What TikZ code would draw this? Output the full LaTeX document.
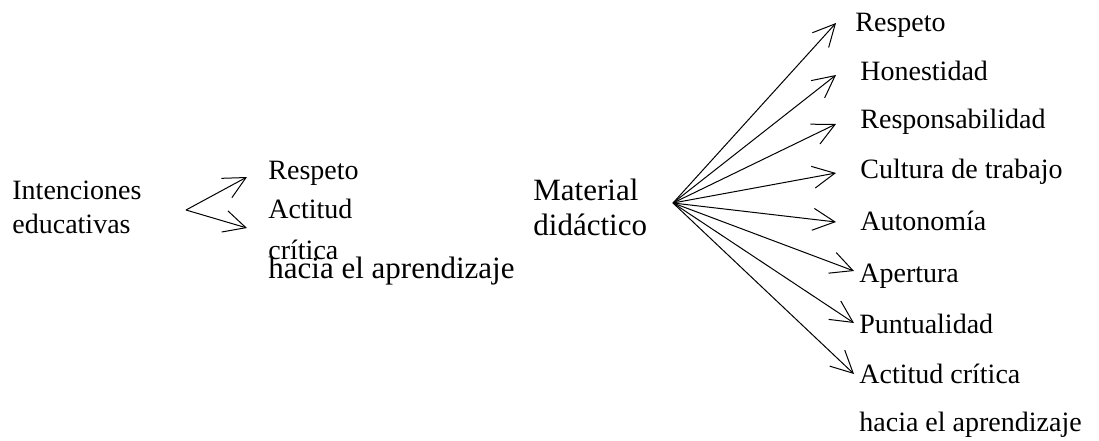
\documentclass[tikz,border=0pt]{standalone}
\usepackage{fontspec}
\setmainfont{Liberation Serif}
\usetikzlibrary{arrows.meta}
\tikzset{every node/.style={inner sep=0pt,anchor=base west,font=\fontsize{14}{17}\selectfont},
  flecha/.style={-{Straight Barb[length=11pt,width=11pt]},line width=0.5pt}}

\begin{document}
\begin{tikzpicture}[x=0.5pt,y=-0.5pt]
      \useasboundingbox (0,0) rectangle (1099,440);
      \node (I1) at (12,199) {Intenciones};
      \node (I2) at (12,233) {educativas};
      \node (R) at (268,179) {Respeto};
      \node (A1) at (268,218) {Actitud};
      \node (A2) at (268,259) {crítica};
      \node[font=\fontsize{15.5}{17}\selectfont] (A3) at (268,278) {hacia el aprendizaje};

      \node[font=\fontsize{15.5}{17}\selectfont] (M1) at (533,200) {Material};
      \node[font=\fontsize{15.5}{17}\selectfont] (M2) at (533,235) {didáctico};

      \node (V1) at (855,31) {Respeto};
      \node (V2) at (860,80) {Honestidad};
      \node (V3) at (860,128) {Responsabilidad};
      \node (V4) at (860,178) {Cultura de trabajo};
      \node (V5) at (860,230) {Autonomía};
      \node (V6) at (859,282) {Apertura};
      \node (V7) at (859,333) {Puntualidad};
      \node (V8) at (859,383) {Actitud crítica};
      \node (V9) at (859,431) {hacia el aprendizaje};

      \coordinate (O1) at (186,210);
      \coordinate (O2) at (673,203);
      \coordinate (t1) at (836,23);
      \coordinate (t2) at (836,75);
      \coordinate (t3) at (836,124);
      \coordinate (t4) at (836,173);
      \coordinate (t5) at (836,222);
      \coordinate (t6) at (854,271);
      \coordinate (t7) at (854,323);
      \coordinate (t8) at (854,374);
      \coordinate (s1) at (247,177);
      \coordinate (s2) at (247,228);

      \draw[flecha] (O1) -- (s1);
      \draw[flecha] (O1) -- (s2);
      \foreach \t in {t1,t2,t3,t4,t5,t6,t7,t8}
        \draw[flecha] (O2) -- (\t);
\end{tikzpicture}
\end{document}
